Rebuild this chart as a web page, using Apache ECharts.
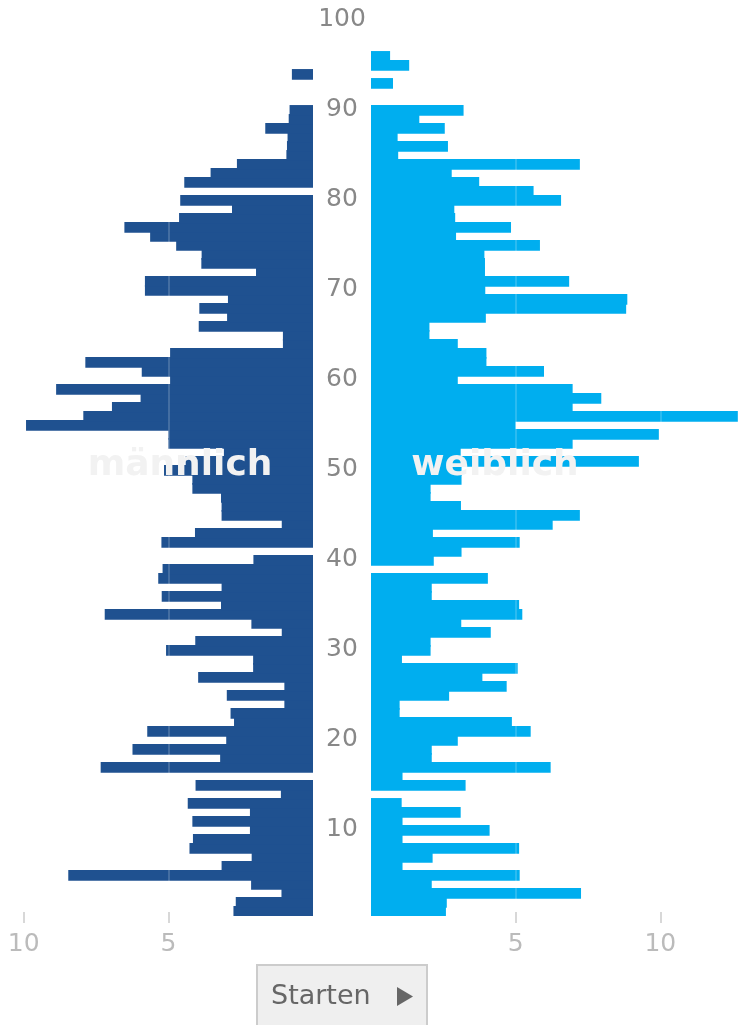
<!DOCTYPE html>
<html>
<head>
<meta charset="utf-8">
<script src="https://cdn.jsdelivr.net/npm/echarts@6.0.0/dist/echarts.min.js"></script>
<style>
  html, body { margin: 0; padding: 0; background: #ffffff; }
  #chart { width: 738px; height: 1025px; }
</style>
</head>
<body>
<div id="chart"></div>
<script>
// Age categories (1..100), bottom to top
const ages = Array.from({ length: 100 }, (_, i) => String(i + 1));

// männlich (left), value per age 1..100
const male = [
  2.75, 2.67, 1.09, 2.14, 8.46, 3.16, 2.12, 4.27, 4.15, 2.18,
  4.17, 2.18, 4.33, 1.11, 4.06, 0, 7.34, 3.21, 6.24, 3.0,
  5.73, 2.73, 2.85, 0.99, 2.98, 0.99, 3.97, 2.07, 2.07, 5.08,
  4.07, 1.08, 2.13, 7.2, 3.18, 5.23, 3.16, 5.35, 5.2, 2.06,
  0, 5.24, 4.08, 1.08, 3.16, 3.16, 3.18, 4.17, 4.17, 5.15,
  4.4, 3.08, 5.0, 5.0, 9.92, 7.94, 6.95, 5.96, 8.88, 4.94,
  5.92, 7.87, 4.94, 1.04, 1.04, 3.95, 2.97, 3.93, 2.94, 5.81,
  5.81, 1.97, 3.86, 3.85, 4.73, 5.63, 6.52, 4.63, 2.8, 4.59,
  0, 4.45, 3.54, 2.63, 0.92, 0.9, 0.88, 1.65, 0.84, 0.81,
  0, 0, 0, 0.73, 0, 0, 0, 0, 0, 0
];

// weiblich (right), value per age 1..100
const female = [
  2.59, 2.62, 7.26, 2.1, 5.14, 1.09, 2.13, 5.12, 1.09, 4.1,
  1.09, 3.1, 1.06, 0, 3.27, 1.09, 6.21, 2.1, 2.1, 3.0,
  5.52, 4.87, 0.99, 0.99, 2.7, 4.69, 3.85, 5.07, 1.07, 2.06,
  2.06, 4.14, 3.12, 5.23, 5.12, 2.1, 2.1, 4.04, 0, 2.17,
  3.13, 5.14, 2.14, 6.28, 7.22, 3.11, 2.06, 2.06, 3.13, 3.13,
  9.26, 3.1, 6.97, 9.95, 5.0, 12.68, 6.97, 7.96, 6.97, 3.0,
  5.98, 3.99, 3.99, 3.0, 2.02, 2.02, 3.97, 8.82, 8.86, 3.95,
  6.85, 3.94, 3.94, 3.92, 5.84, 2.94, 4.84, 2.91, 2.88, 6.57,
  5.62, 3.74, 2.79, 7.22, 0.94, 2.66, 0.92, 2.55, 1.67, 3.2,
  0, 0, 0.76, 0, 1.32, 0.66, 0, 0, 0, 0
];

// tick labels
const valueTicks = [5, 10];
const ageLabelStep = 10;

const FONT = 'DejaVu Sans';
const chart = echarts.init(document.getElementById('chart'));

function valueAxis(gridIndex, inverse, max) {
  return {
    gridIndex: gridIndex,
    type: 'value',
    inverse: inverse,
    min: 0,
    max: max,
    interval: 5,
    offset: -4,
    z: 10,
    axisLine: { show: false },
    axisTick: {
      show: true, length: 11, customValues: valueTicks,
      lineStyle: { color: '#cccccc', width: 1.5 }
    },
    axisLabel: {
      customValues: valueTicks,
      color: '#bbbbbb', fontSize: 25, fontFamily: FONT, margin: 20
    },
    splitLine: { show: true, lineStyle: { color: 'rgba(255,255,255,0.17)', width: 2 } }
  };
}

chart.setOption({
  animation: false,
  backgroundColor: '#ffffff',
  grid: [
    { left: 0, top: 15.9, width: 313, height: 900 },
    { left: 371, top: 15.9, width: 367, height: 900 },
    { left: 342, top: 19.5, width: 1, height: 900 }
  ],
  xAxis: [
    valueAxis(0, true, 10.82),
    valueAxis(1, false, 12.686),
    { gridIndex: 2, type: 'value', show: false }
  ],
  yAxis: [
    { gridIndex: 0, type: 'category', data: ages, show: false },
    { gridIndex: 1, type: 'category', data: ages, show: false },
    {
      gridIndex: 2, type: 'value', min: 0, max: 100, interval: ageLabelStep,
      position: 'left',
      axisLine: { show: false }, axisTick: { show: false }, splitLine: { show: false },
      axisLabel: {
        showMinLabel: false, showMaxLabel: true,
        align: 'center', margin: 0,
        color: '#888888', fontSize: 25, fontFamily: FONT
      }
    }
  ],
  series: [
    {
      name: 'männlich', type: 'bar', xAxisIndex: 0, yAxisIndex: 0,
      data: male, barWidth: 10.7, z: 2,
      itemStyle: { color: '#1f5190' }
    },
    {
      name: 'weiblich', type: 'bar', xAxisIndex: 1, yAxisIndex: 1,
      data: female, barWidth: 10.7, z: 2,
      itemStyle: { color: '#00aeef' }
    }
  ],
  graphic: [
    {
      type: 'text', x: 180, y: 466, z: 100,
      style: { text: 'männlich', fill: '#f2f2f2', font: 'bold 36px "DejaVu Sans"', align: 'center', verticalAlign: 'middle' }
    },
    {
      type: 'text', x: 495, y: 466, z: 100,
      style: { text: 'weiblich', fill: '#f2f2f2', font: 'bold 36px "DejaVu Sans"', align: 'center', verticalAlign: 'middle' }
    },
    {
      type: 'rect', z: 100,
      shape: { x: 257, y: 965, width: 170, height: 70 },
      style: { fill: '#efefef', stroke: '#cccccc', lineWidth: 2 }
    },
    {
      type: 'text', x: 271, y: 997, z: 101,
      style: { text: 'Starten', fill: '#666666', font: '27px "DejaVu Sans"', align: 'left', verticalAlign: 'middle' }
    },
    {
      type: 'polygon', z: 101,
      shape: { points: [[397, 987], [413, 996.5], [397, 1006]] },
      style: { fill: '#666666' }
    }
  ]
});
</script>
</body>
</html>
